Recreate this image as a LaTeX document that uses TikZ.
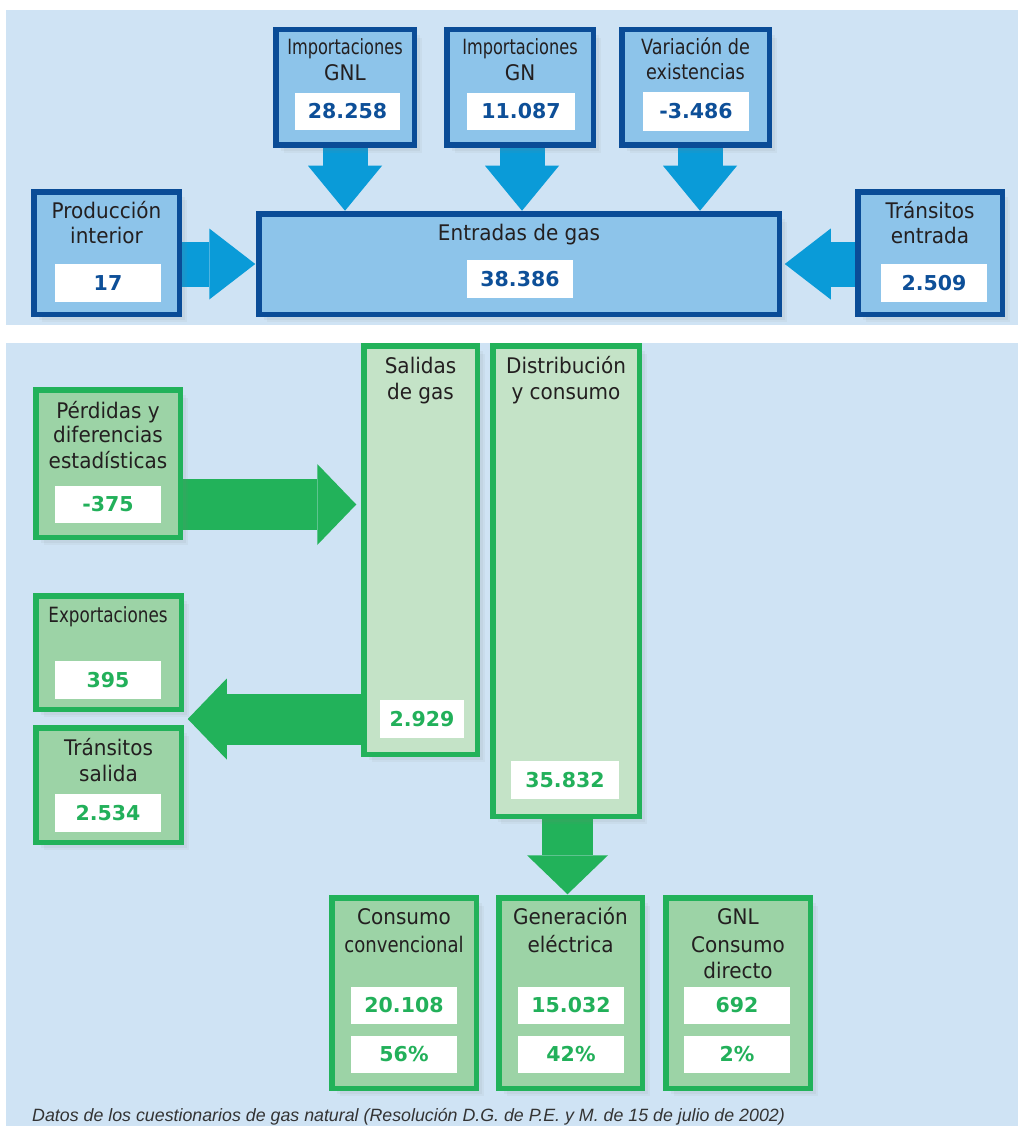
\documentclass[tikz,border=0pt]{standalone}
\usepackage{fontspec}
\setmainfont{DejaVu Sans}
\newfontfamily\lblf[FakeStretch=0.93]{DejaVu Sans}
\newfontfamily\condA[FakeStretch=0.77]{DejaVu Sans}
\newfontfamily\condB[FakeStretch=0.84]{DejaVu Sans}
\newfontfamily\condC[FakeStretch=0.8]{DejaVu Sans}
\newfontfamily\footf{Liberation Sans}
\usetikzlibrary{arrows.meta,shadows,calc}
\definecolor{panelbg}{HTML}{CFE3F4}
\definecolor{bfill}{HTML}{8DC4EA}
\definecolor{bborder}{HTML}{0A4C97}
\definecolor{bnum}{HTML}{0D4F98}
\definecolor{barrowc}{HTML}{0A9BD8}
\definecolor{gborder}{HTML}{22B25A}
\definecolor{gfill}{HTML}{9CD3A6}
\definecolor{gtallfill}{HTML}{C4E3C7}
\definecolor{gnum}{HTML}{22B05A}
\definecolor{txt}{HTML}{231F20}
\definecolor{foot}{HTML}{333333}
\pgfdeclarelayer{back}
\pgfdeclarelayer{mid}
\pgfsetlayers{back,mid,main}
\begin{document}
\begin{tikzpicture}[x=1pt,y=-1pt,
  box/.style={rectangle, inner sep=0pt, outer sep=0pt, line width=5.5pt,
    drop shadow={opacity=0.09, shadow xshift=3pt, shadow yshift=-3pt},
    drop shadow={opacity=0.08, shadow xshift=5.5pt, shadow yshift=-5.5pt},
    drop shadow={opacity=0.07, shadow xshift=8pt, shadow yshift=-8pt}},
  bbox/.style={box, draw=bborder, fill=bfill},
  gbox/.style={box, draw=gborder, fill=gfill},
  gtall/.style={box, draw=gborder, fill=gtallfill},
  wbox/.style={rectangle, fill=white, inner sep=0pt, minimum height=37pt, minimum width=106pt,
    font=\bfseries\fontsize{20.5}{24}\selectfont},
  bval/.style={wbox, text=bnum},
  gval/.style={wbox, text=gnum},
  lbl/.style={inner sep=0pt, anchor=base, text=txt, font=\lblf\fontsize{21.5}{24}\selectfont},
  clblA/.style={lbl, font=\condA\fontsize{21}{24}\selectfont},
  clblB/.style={lbl, font=\condB\fontsize{21}{24}\selectfont},
  clblC/.style={lbl, font=\condC\fontsize{21}{24}\selectfont},
  clblD/.style={lbl, font=\condB\fontsize{21.5}{24}\selectfont},
  barrowV/.style={draw=barrowc, line width=45pt, -{Triangle[width=74pt,length=45pt,line width=0pt]}},
  barrowH/.style={draw=barrowc, line width=45pt, -{Triangle[width=71pt,length=46pt,line width=0pt]}},
  garrow/.style={draw=gborder, line width=51pt, -{Triangle[width=81pt,length=39pt,line width=0pt]}},
]
\useasboundingbox (0,0) rectangle (1018,1126);
\begin{pgfonlayer}{back}
\fill[white] (0,0) rectangle (1018,1126);
\fill[panelbg] (6,10) rectangle (1018,325);
\fill[panelbg] (6,343) rectangle (1018,1126);
\end{pgfonlayer}

% ---------- top (blue) ----------
\node[bbox, minimum width=138.5pt, minimum height=115.5pt] (impGNL) at (345,87.5) {};
\node[bbox, minimum width=146.5pt, minimum height=115.5pt] (impGN) at (520,87.5) {};
\node[bbox, minimum width=147.5pt, minimum height=115.5pt] (var) at (695.5,87.5) {};
\node[bbox, minimum width=145.5pt, minimum height=122.5pt] (prod) at (106.5,253) {};
\node[bbox, minimum width=520.5pt, minimum height=100.5pt] (entr) at (519,264) {};
\node[bbox, minimum width=144.5pt, minimum height=122.5pt] (trE) at (930,253) {};

\node[bval, minimum width=105pt] (impGNLv) at (347.5,111.5) {28.258};
\node[bval, minimum width=108pt] (impGNv) at (521,111.5) {11.087};
\node[bval, minimum width=106pt, minimum height=39pt] (varv) at (696,111.5) {-3.486};
\node[bval, minimum height=38pt] (prodv) at (108,283) {17};
\node[bval, minimum height=38pt] (entrv) at (520,279) {38.386};
\node[bval, minimum height=38pt] (trEv) at (934,283) {2.509};

\node[clblA] (impGNLt1) at (345,55) {Importaciones};
\node[lbl] (impGNLt2) at (345,81) {GNL};
\node[clblA] (impGNt1) at (520,55) {Importaciones};
\node[lbl] (impGNt2) at (520,81) {GN};
\node[clblB] (vart1) at (695.5,55) {Variación de};
\node[clblB] (vart2) at (695.5,80) {existencias};
\node[lbl] (prodt1) at (106.5,218) {Producción};
\node[lbl] (prodt2) at (106.5,243) {interior};
\node[lbl] (entrt) at (519,240) {Entradas de gas};
\node[lbl] (trEt1) at (930,218) {Tránsitos};
\node[lbl] (trEt2) at (930,243) {entrada};

% ---------- bottom (green) ----------
\node[gbox, minimum width=144.5pt, minimum height=147.5pt] (perd) at (108,463.5) {};
\node[gtall, minimum width=113.5pt, minimum height=408.5pt] (sal) at (420.5,550) {};
\node[gtall, minimum width=146.5pt, minimum height=470.5pt] (dist) at (566,581) {};
\node[gbox, minimum width=145.5pt, minimum height=113.5pt] (exp) at (108.5,652.5) {};
\node[gbox, minimum width=145.5pt, minimum height=114.5pt] (trS) at (108.5,785) {};
\node[gbox, minimum width=144.5pt, minimum height=190.5pt] (cons) at (404,993) {};
\node[gbox, minimum width=143.5pt, minimum height=190.5pt] (gen) at (570.5,993) {};
\node[gbox, minimum width=144.5pt, minimum height=190.5pt] (gnl) at (738,993) {};

\node[gval] (perdv) at (108,504.5) {-375};
\node[gval, minimum width=84pt, minimum height=38pt] (salv) at (422,719) {2.929};
\node[gval, minimum width=108pt, minimum height=38pt] (distv) at (565,780) {35.832};
\node[gval, minimum height=38pt] (expv) at (108,680) {395};
\node[gval, minimum height=38pt] (trSv) at (108,813) {2.534};
\node[gval] (consv) at (404,1005.5) {20.108};
\node[gval] (consp) at (404,1054.5) {56\%};
\node[gval] (genv) at (571,1005.5) {15.032};
\node[gval] (genp) at (571,1054.5) {42\%};
\node[gval] (gnlv) at (737,1005.5) {692};
\node[gval] (gnlp) at (737,1054.5) {2\%};

\node[lbl] (perdt1) at (108,418) {Pérdidas y};
\node[lbl] (perdt2) at (108,442) {diferencias};
\node[lbl] (perdt3) at (108,468) {estadísticas};
\node[lbl] (salt1) at (420.5,373) {Salidas};
\node[lbl] (salt2) at (420.5,399) {de gas};
\node[lbl] (distt1) at (566,373) {Distribución};
\node[lbl] (distt2) at (566,399) {y consumo};
\node[clblC] (expt) at (108,622) {Exportaciones};
\node[lbl] (trSt1) at (108.5,755) {Tránsitos};
\node[lbl] (trSt2) at (108.5,781) {salida};
\node[lbl] (const1) at (404,924) {Consumo};
\node[clblD] (const2) at (404,952) {convencional};
\node[lbl] (gent1) at (570.5,924) {Generación};
\node[lbl] (gent2) at (570.5,952) {eléctrica};
\node[lbl] (gnlt1) at (738,924) {GNL};
\node[lbl] (gnlt2) at (738,952) {Consumo};
\node[lbl] (gnlt3) at (738,978) {directo};

\node[anchor=base west, inner sep=0pt, text=foot, font=\footf\itshape\fontsize{17.8}{20}\selectfont] (note) at (32,1121)
  {Datos de los cuestionarios de gas natural (Resolución D.G. de P.E. y M. de 15 de julio de 2002)};

% ---------- arrows ----------
\begin{pgfonlayer}{mid}
\draw[barrowV, shorten >=3pt] (impGNL.south) -- (impGNL.south |- entr.north);
\draw[barrowV, shorten >=3pt] ([xshift=2pt]impGN.south) -- ([xshift=2pt]impGN.south |- entr.north);
\draw[barrowV, shorten >=3pt] ([xshift=4.5pt]var.south) -- ([xshift=4.5pt]var.south |- entr.north);
\draw[barrowH, shorten >=3.5pt] (prod.east |- entr.west) -- (entr.west);
\draw[barrowH, shorten >=5.5pt] (trE.west |- entr.east) -- (entr.east);
\draw[garrow, shorten >=7.5pt] (perdv -| perd.east) -- (perdv -| sal.west);
\draw[garrow, shorten >=6.5pt] (salv -| sal.west) -- (salv -| exp.east);
\draw[garrow, shorten >=3.5pt] ([xshift=1.5pt]dist.south) -- ([xshift=1.5pt]dist.south |- gen.north);
\end{pgfonlayer}
\end{tikzpicture}
\end{document}
